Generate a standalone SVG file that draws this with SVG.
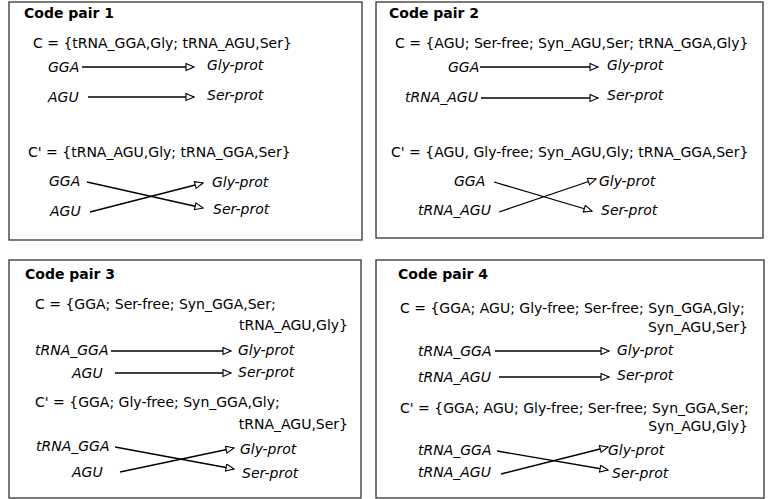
<svg xmlns="http://www.w3.org/2000/svg" width="768" height="499" viewBox="0 0 768 499">
<style>
.box{fill:#fff;stroke:#333;stroke-width:1.3}
text{font-family:"DejaVu Sans",sans-serif;font-size:14px;fill:#000}
.t{font-weight:bold}
.i{font-style:italic}
.e{text-anchor:end}
.c line{stroke:#000;stroke-width:1.3;marker-end:url(#ah)}
</style>
<defs>
<marker id="ah" markerUnits="userSpaceOnUse" markerWidth="12" markerHeight="10" refX="9" refY="4" orient="auto">
<path d="M1,0.5 L9,4 L1,7.5 Z" fill="#fff" stroke="#000" stroke-width="1.1"/>
</marker>
</defs>
<rect width="768" height="499" fill="#fff"/>

<g id="pair1">
<rect class="box" x="9" y="2" width="353" height="238"/>
<text class="t" x="24" y="18">Code pair 1</text>
<text x="33" y="48">C = {tRNA_GGA,Gly; tRNA_AGU,Ser}</text>
<text class="i" x="48" y="72">GGA</text>
<text class="i" x="207" y="70">Gly-prot</text>
<text class="i" x="48" y="102">AGU</text>
<text class="i" x="207" y="100">Ser-prot</text>
<text x="28" y="157">C' = {tRNA_AGU,Gly; tRNA_GGA,Ser}</text>
<text class="i" x="49" y="186">GGA</text>
<text class="i" x="212" y="187">Gly-prot</text>
<text class="i" x="50" y="216">AGU</text>
<text class="i" x="213" y="214">Ser-prot</text>
</g>

<g id="pair2">
<rect class="box" x="376" y="2" width="387" height="236"/>
<text class="t" x="389" y="18">Code pair 2</text>
<text x="395" y="48">C = {AGU; Ser-free; Syn_AGU,Ser; tRNA_GGA,Gly}</text>
<text class="i" x="448" y="72">GGA</text>
<text class="i" x="607" y="70">Gly-prot</text>
<text class="i" x="405" y="102">tRNA_AGU</text>
<text class="i" x="607" y="100">Ser-prot</text>
<text x="391" y="157">C' = {AGU, Gly-free; Syn_AGU,Gly; tRNA_GGA,Ser}</text>
<text class="i" x="454" y="186">GGA</text>
<text class="i" x="599" y="186">Gly-prot</text>
<text class="i" x="418" y="215">tRNA_AGU</text>
<text class="i" x="601" y="215">Ser-prot</text>
</g>

<g id="pair3">
<rect class="box" x="9" y="260" width="352" height="238"/>
<text class="t" x="25" y="279">Code pair 3</text>
<text x="35" y="309">C = {GGA; Ser-free; Syn_GGA,Ser;</text>
<text class="e" x="348" y="330">tRNA_AGU,Gly}</text>
<text class="i" x="35" y="355">tRNA_GGA</text>
<text class="i" x="238" y="355">Gly-prot</text>
<text class="i" x="72" y="378">AGU</text>
<text class="i" x="238" y="377">Ser-prot</text>
<text x="35" y="407">C' = {GGA; Gly-free; Syn_GGA,Gly;</text>
<text class="e" x="348" y="429">tRNA_AGU,Ser}</text>
<text class="i" x="36" y="451">tRNA_GGA</text>
<text class="i" x="240" y="454">Gly-prot</text>
<text class="i" x="72" y="477">AGU</text>
<text class="i" x="242" y="478">Ser-prot</text>
</g>

<g id="pair4">
<rect class="box" x="376" y="260" width="388" height="238"/>
<text class="t" x="398" y="279">Code pair 4</text>
<text x="400" y="313">C = {GGA; AGU; Gly-free; Ser-free; Syn_GGA,Gly;</text>
<text class="e" x="748" y="332">Syn_AGU,Ser}</text>
<text class="i" x="418" y="356">tRNA_GGA</text>
<text class="i" x="617" y="355">Gly-prot</text>
<text class="i" x="418" y="382">tRNA_AGU</text>
<text class="i" x="617" y="380">Ser-prot</text>
<text x="400" y="413">C' = {GGA; AGU; Gly-free; Ser-free; Syn_GGA,Ser;</text>
<text class="e" x="748" y="431">Syn_AGU,Gly}</text>
<text class="i" x="418" y="455">tRNA_GGA</text>
<text class="i" x="608" y="455">Gly-prot</text>
<text class="i" x="418" y="477">tRNA_AGU</text>
<text class="i" x="612" y="478">Ser-prot</text>
</g>

<g id="connectors" class="c">
<line x1="82" y1="67" x2="194" y2="67"/>
<line x1="88" y1="97" x2="194" y2="97"/>
<line x1="87" y1="182" x2="203" y2="208"/>
<line x1="90" y1="212" x2="203" y2="183"/>
<line x1="480" y1="67" x2="598" y2="67"/>
<line x1="481" y1="98" x2="598" y2="98"/>
<line x1="494" y1="182" x2="592" y2="211"/>
<line x1="499" y1="212" x2="596" y2="179"/>
<line x1="111" y1="351" x2="231" y2="351"/>
<line x1="115" y1="373" x2="231" y2="373"/>
<line x1="115" y1="447" x2="234" y2="469"/>
<line x1="120" y1="472" x2="234" y2="448"/>
<line x1="495" y1="351" x2="609" y2="351"/>
<line x1="499" y1="377" x2="609" y2="377"/>
<line x1="497" y1="451" x2="608" y2="470"/>
<line x1="501" y1="474" x2="608" y2="447"/>
</g>
</svg>
